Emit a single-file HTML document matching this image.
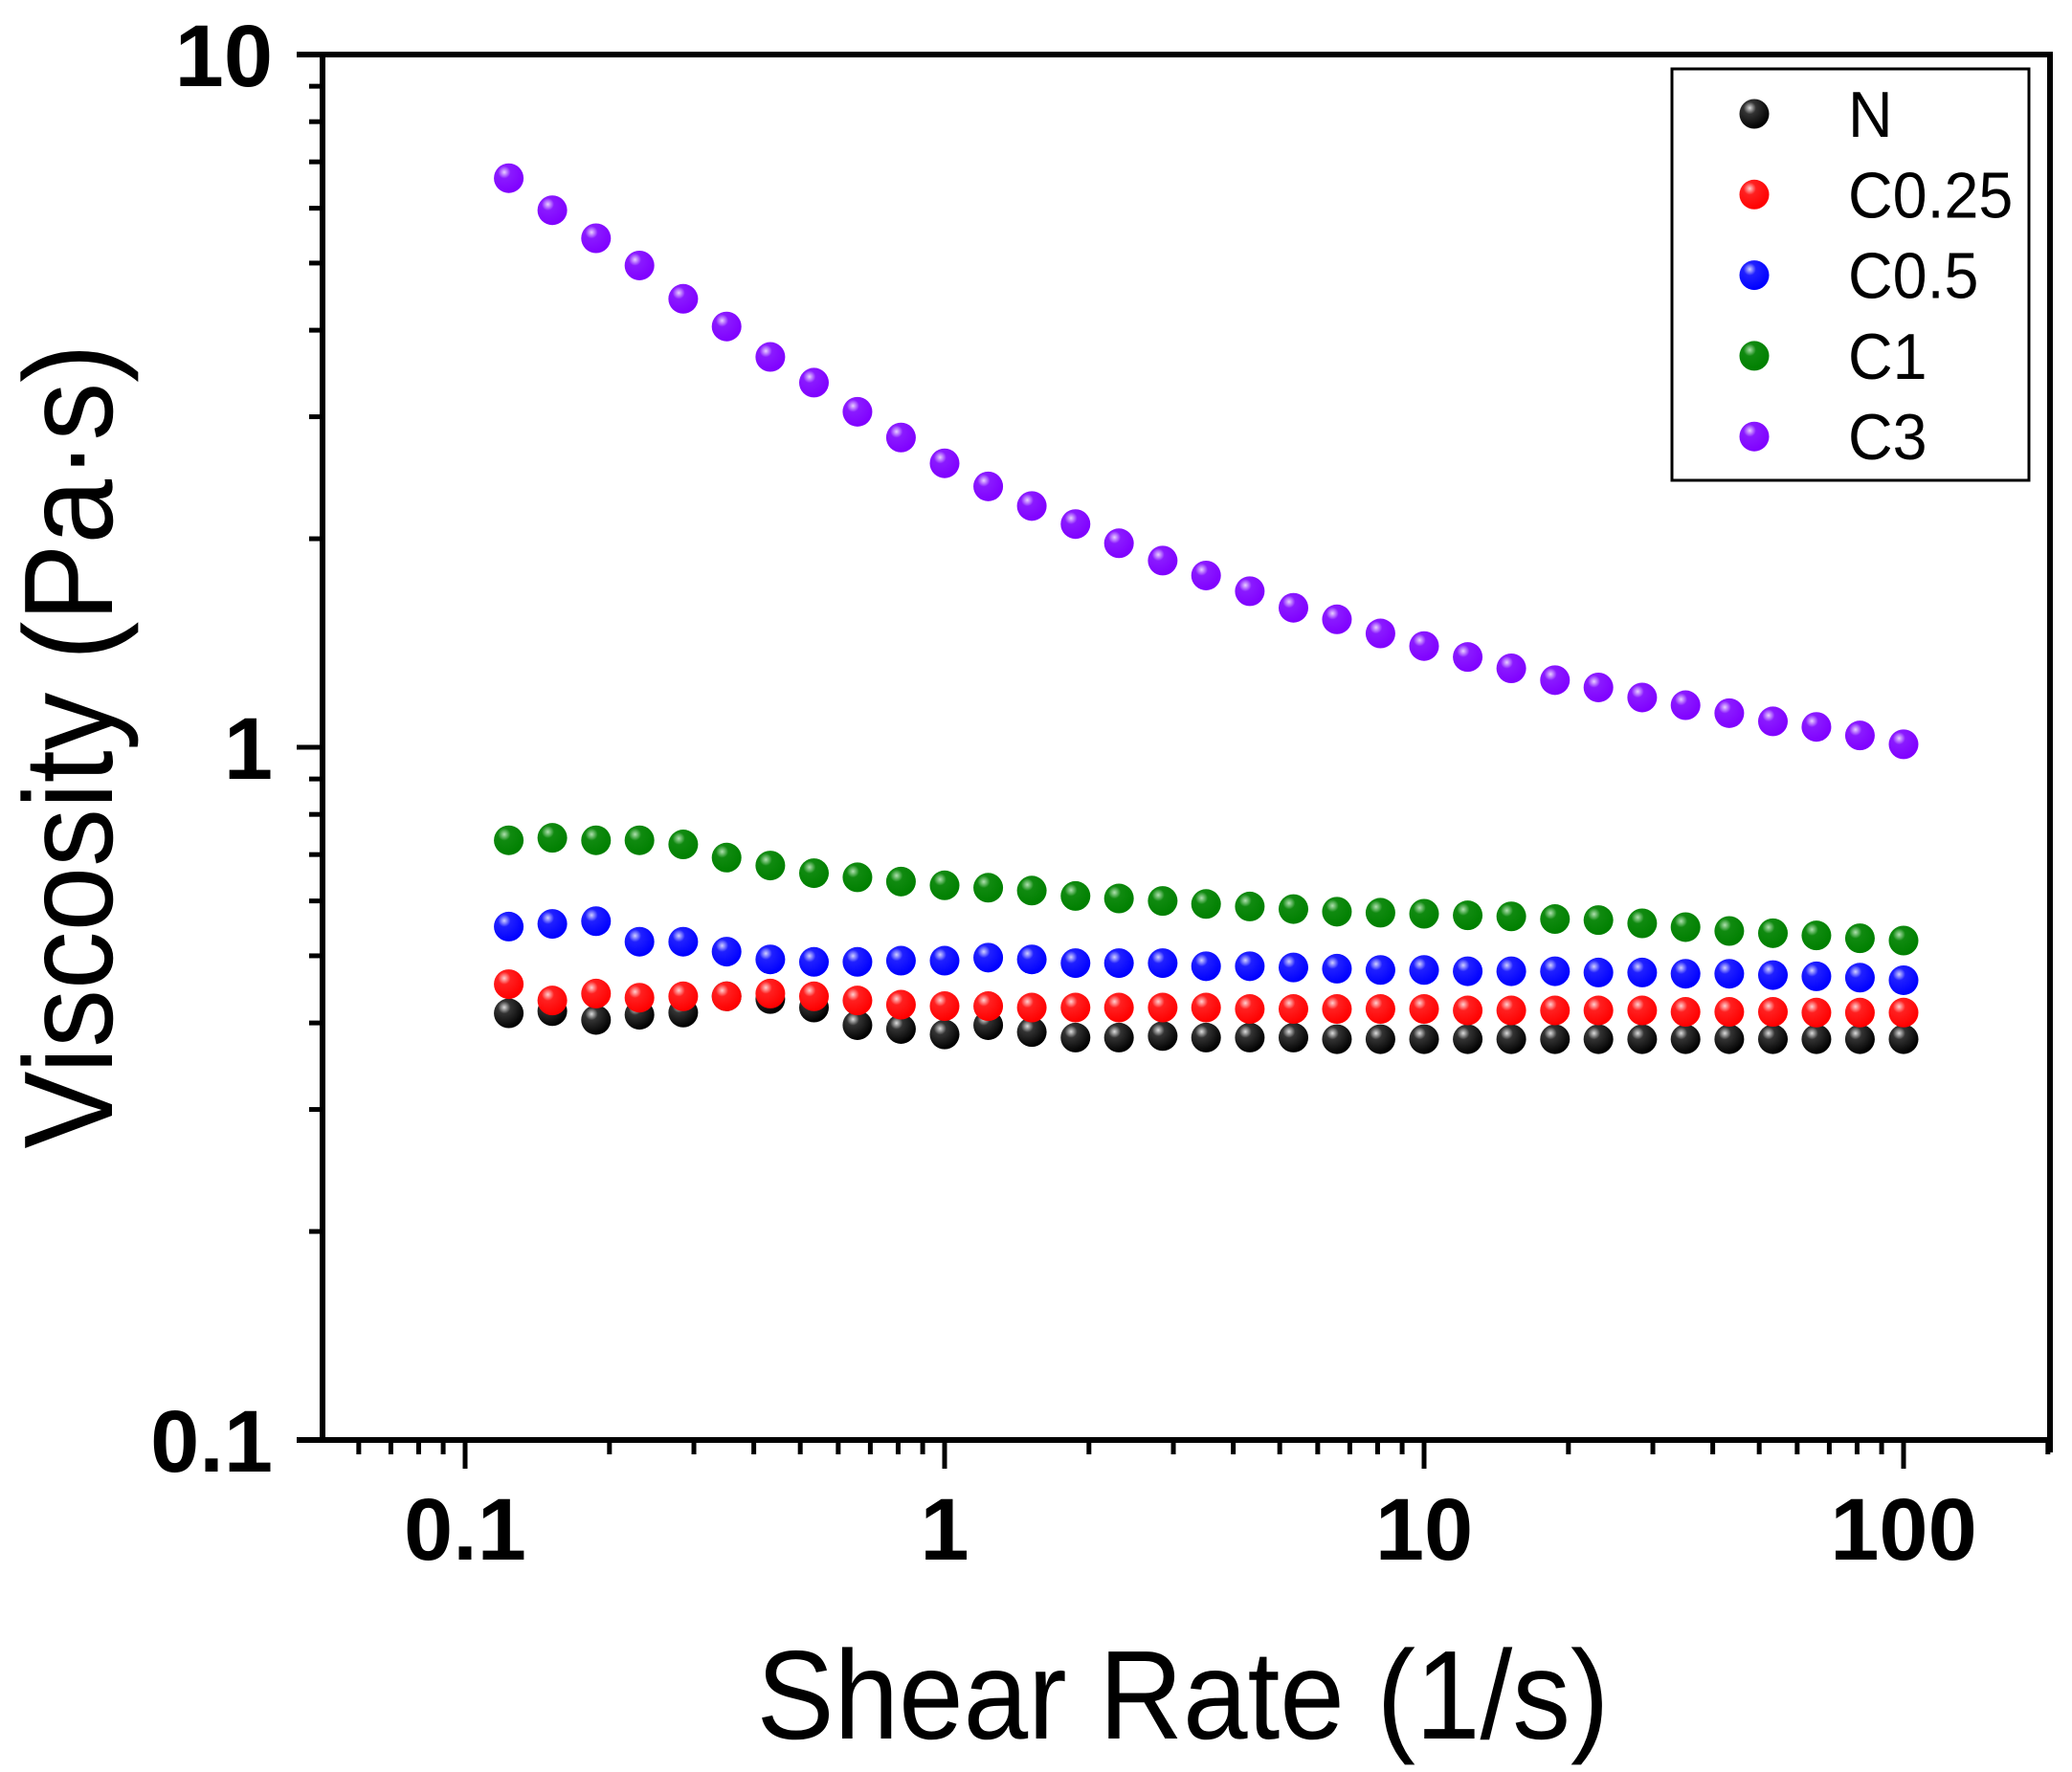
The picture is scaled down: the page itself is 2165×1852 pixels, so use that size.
<!DOCTYPE html>
<html><head><meta charset="utf-8"><style>
html,body{margin:0;padding:0;background:#fff;}
svg{display:block;font-family:"Liberation Sans",Arial,sans-serif;}
</style></head><body>
<svg id="chart" width="2165" height="1852" viewBox="0 0 2165 1852" xmlns="http://www.w3.org/2000/svg">
<defs>
<radialGradient id="gN" cx="0.35" cy="0.3" r="0.7"><stop offset="0" stop-color="#ddd"/><stop offset="0.3" stop-color="#333"/><stop offset="1" stop-color="#000"/></radialGradient>
<radialGradient id="gR" cx="0.35" cy="0.3" r="0.7"><stop offset="0" stop-color="#ffd0d0"/><stop offset="0.3" stop-color="#ff2020"/><stop offset="1" stop-color="#f00"/></radialGradient>
<radialGradient id="gB" cx="0.35" cy="0.3" r="0.7"><stop offset="0" stop-color="#d0d0ff"/><stop offset="0.3" stop-color="#2020ff"/><stop offset="1" stop-color="#00f"/></radialGradient>
<radialGradient id="gG" cx="0.35" cy="0.3" r="0.7"><stop offset="0" stop-color="#b0e0b0"/><stop offset="0.3" stop-color="#108a10"/><stop offset="1" stop-color="#008000"/></radialGradient>
<radialGradient id="gP" cx="0.35" cy="0.3" r="0.7"><stop offset="0" stop-color="#e8d0ff"/><stop offset="0.3" stop-color="#8a1aff"/><stop offset="1" stop-color="#8000ff"/></radialGradient>
</defs>
<g id="axes"></g>
<g id="marks"></g>
<g id="legend"></g>
<text x="1236" y="1817" font-size="132" text-anchor="middle" transform="translate(1236 0) scale(0.92 1) translate(-1236 0)">Shear Rate (1/s)</text>
<text x="0" y="0" font-size="132" text-anchor="middle" transform="translate(117 780) rotate(-90) scale(0.92 1)">Viscosity (Pa·s)</text>
</svg>
<script>
const shearRate = [0.1233,0.152,0.1875,0.231,0.285,0.351,0.433,0.534,0.658,0.811,1.0,1.233,1.52,1.875,2.31,2.85,3.51,4.33,5.34,6.58,8.11,10,12.33,15.2,18.75,23.1,28.5,35.1,43.3,53.4,65.8,81.1,100];
const seriesN = [0.413,0.416,0.404,0.411,0.414,0.437,0.433,0.421,0.397,0.392,0.385,0.397,0.388,0.381,0.381,0.383,0.381,0.381,0.381,0.379,0.379,0.379,0.379,0.379,0.379,0.379,0.379,0.379,0.379,0.379,0.379,0.379,0.379];
const seriesC025 = [0.455,0.431,0.441,0.435,0.437,0.437,0.441,0.437,0.431,0.425,0.423,0.423,0.421,0.421,0.421,0.421,0.421,0.419,0.419,0.419,0.419,0.419,0.417,0.417,0.417,0.417,0.417,0.415,0.415,0.415,0.414,0.414,0.414];
const seriesC05 = [0.551,0.556,0.561,0.524,0.524,0.507,0.494,0.490,0.490,0.492,0.492,0.497,0.494,0.488,0.488,0.488,0.483,0.483,0.481,0.479,0.477,0.477,0.475,0.475,0.475,0.473,0.473,0.471,0.471,0.469,0.467,0.465,0.461];
const seriesC1 = [0.734,0.740,0.734,0.734,0.724,0.693,0.675,0.658,0.649,0.640,0.632,0.627,0.621,0.610,0.605,0.600,0.594,0.589,0.584,0.579,0.577,0.575,0.572,0.570,0.565,0.563,0.557,0.550,0.543,0.539,0.535,0.530,0.526];
const seriesC3 = [6.63,5.96,5.43,4.96,4.44,4.05,3.66,3.36,3.05,2.80,2.57,2.38,2.23,2.10,1.97,1.86,1.77,1.68,1.59,1.53,1.46,1.40,1.35,1.30,1.25,1.22,1.18,1.15,1.12,1.09,1.07,1.04,1.01];
const seriesNames = ["N","C0.25","C0.5","C1","C3"];
const xTickLabels = ["0.1","1","10","100"];
const xTickValues = [0.1,1,10,100];
const yTickLabels = ["0.1","1","10"];
const yTickValues = [0.1,1,10];

const NS="http://www.w3.org/2000/svg";
const L=337,R=2142,T=57,B=1505;
const X0=486, XD=501;
function xs(v){return X0+(Math.log10(v)+1)*XD;}
function ys(v){return B-(Math.log10(v)+1)*((B-T)/2);}
function mk(tag,attrs,parent){const e=document.createElementNS(NS,tag);for(const k in attrs)e.setAttribute(k,attrs[k]);parent.appendChild(e);return e;}
const ax=document.getElementById('axes');
let f=mk('path',{d:`M${L} ${T}H${R}V${B+13}M${R} ${B}H${L-27}M${L} ${B}V${T}H${L-27}`,fill:'none',stroke:'#000','stroke-width':6},ax);


for(let d=-2;d<=2;d++){for(let m=1;m<=9;m++){const v=m*Math.pow(10,d);const x=xs(v);if(x<L||x>R)continue;
 const t=mk('line',{x1:x,x2:x,y1:B,y2:B+(m===1?30:15),stroke:'#000','stroke-width':5},ax);
 
 }}
xTickValues.forEach((v,i)=>{const t=mk('text',{x:xs(v),y:1630,'font-size':92,'font-weight':'bold','text-anchor':'middle'},ax);t.textContent=xTickLabels[i];
 
 });
for(let d=-1;d<=0;d++){for(let m=1;m<=9;m++){const v=m*Math.pow(10,d);const y=ys(v);
 const t=mk('line',{x1:L,x2:L-(m===1?27:14),y1:y,y2:y,stroke:'#000','stroke-width':5},ax);
 
 }}
yTickValues.forEach((v,i)=>{const t=mk('text',{x:285,y:ys(v)+33,'font-size':92,'font-weight':'bold','text-anchor':'end'},ax);t.textContent=yTickLabels[i];
 
 });
const all=[seriesN,seriesC025,seriesC05,seriesC1,seriesC3];
const fills=['url(#gN)','url(#gR)','url(#gB)','url(#gG)','url(#gP)'];
const marks=document.getElementById('marks');
all.forEach((s,si)=>{const g=mk('g',{},marks);
 
 
 s.forEach((v,i)=>{const c=mk('circle',{cx:xs(shearRate[i]),cy:ys(v),r:15.5,fill:fills[si]},g);
  
  });});
const lg=document.getElementById('legend');
const box=mk('rect',{x:1747,y:72,width:373,height:430,fill:'#fff',stroke:'#000','stroke-width':3},lg);


seriesNames.forEach((n,i)=>{const y=119+i*84.3;const g=mk('g',{},lg);
 
 
 mk('circle',{cx:1833,cy:y,r:15.5,fill:fills[i]},g);
 const t=mk('text',{x:1931,y:y+24,'font-size':68,transform:`translate(1931 0) scale(0.95 1) translate(-1931 0)`},g);t.textContent=n;});
</script>
</body></html>
